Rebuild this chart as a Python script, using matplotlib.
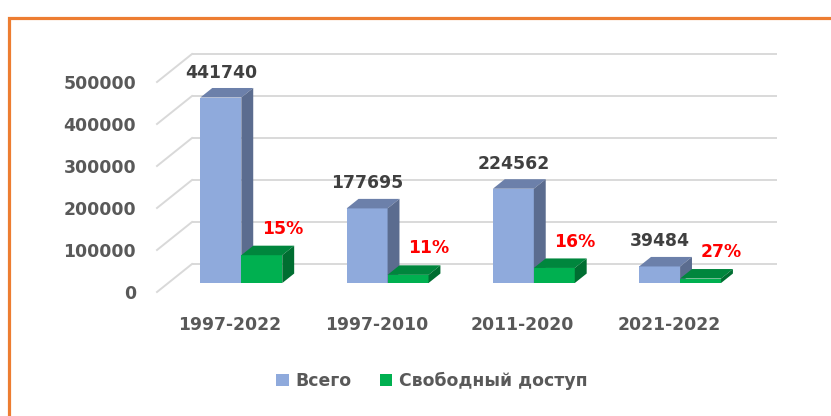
import matplotlib
matplotlib.use('Agg')
import matplotlib.pyplot as plt
from matplotlib.patches import Polygon, Rectangle

# ---- data ----
categories = ['1997-2022', '1997-2010', '2011-2020', '2021-2022']
total = [441740, 177695, 224562, 39484]
free = [66300, 19500, 35900, 10700]
free_pct = ['15%', '11%', '16%', '27%']
series_names = ['Всего', 'Свободный доступ']
yticks = [0, 100000, 200000, 300000, 400000, 500000]

# ---- styles ----
FONT = 'DejaVu Sans'
FS = 12.4
front_cols = ['#8FAADC', '#00B050']
top_cols = ['#6C80AA', '#00863D']
side_cols = ['#5B6C8F', '#006E31']
grid_col = '#D9D9D9'
tick_col = '#595959'
lab_col = '#404040'

W, H = 831, 416
fig = plt.figure(figsize=(W / 100, H / 100), dpi=100)
ax_l, ax_r, ax_b, ax_t = 157, 742, 292, 82
ax = fig.add_axes([ax_l / W, 1 - ax_b / H, (ax_r - ax_l) / W, (ax_b - ax_t) / H])
ax.set_xlim(-0.5, len(categories) - 0.5)
ax.set_ylim(0, yticks[-1])
ax.set_facecolor('none')
for sp in ax.spines.values():
    sp.set_visible(False)

# pixel scales -> depth offsets in data units
sx = (ax_r - ax_l) / len(categories)
sy = (ax_b - ax_t) / yticks[-1]
wdx = 35 / sx
wdy = 28 / sy


def dp(x, y, f):
    return (x + f * wdx, y + f * wdy)


# walls / gridlines
x_lo, x_hi = -0.5, len(categories) - 0.5
for v in yticks:
    ax.plot([x_lo + wdx, x_hi + wdx], [v + wdy, v + wdy], color=grid_col, lw=1.4,
            clip_on=False, zorder=1, solid_capstyle='butt')
    ax.plot([x_lo, x_lo + wdx], [v, v + wdy], color=grid_col, lw=1.4,
            clip_on=False, zorder=1)

# bars
bw = 0.28
f0, f1 = 0.32, 0.66
series = [total, free]
z = 3
for i in range(len(categories)):
    for s, vals in enumerate(series):
        x0 = i - bw + s * bw
        x1 = x0 + bw
        h = vals[i]
        bx, by = dp(x0, 0, f0)
        ax.bar(bx, h, width=bw, bottom=by, align='edge', color=front_cols[s],
               lw=0, clip_on=False, zorder=z)
        top = Polygon([dp(x0, h, f0), dp(x1, h, f0), dp(x1, h, f1), dp(x0, h, f1)],
                      closed=True, fc=top_cols[s], lw=0, clip_on=False, zorder=z)
        side = Polygon([dp(x1, 0, f0), dp(x1, h, f0), dp(x1, h, f1), dp(x1, 0, f1)],
                       closed=True, fc=side_cols[s], lw=0, clip_on=False, zorder=z)
        ax.add_patch(top)
        ax.add_patch(side)
        z += 1
    # labels
    xc = i - bw / 2
    ax.annotate(f'{total[i]}', xy=dp(xc, total[i], f0), xytext=(0, 18),
                textcoords='offset points', ha='center', va='center',
                fontsize=FS, fontweight='bold', color=lab_col, family=FONT,
                zorder=20, annotation_clip=False)
    xg = i + bw / 2
    ax.annotate(free_pct[i], xy=dp(xg, free[i], f0), xytext=(15, 19),
                textcoords='offset points', ha='center', va='center',
                fontsize=FS, fontweight='bold', color='#FF0000', family=FONT,
                zorder=20, annotation_clip=False)

ax.set_yticks(yticks)
ax.set_yticklabels([str(v) for v in yticks], fontsize=FS, fontweight='bold',
                   color=tick_col, family=FONT)
ax.set_xticks(range(len(categories)))
ax.set_xticklabels(categories, fontsize=FS, fontweight='bold', color=tick_col,
                   family=FONT)
ax.tick_params(axis='y', length=0, pad=15)
ax.tick_params(axis='x', length=0, pad=17)

# legend
handles = [Rectangle((0, 0), 1, 1, fc=c, lw=0) for c in front_cols]
leg = fig.legend(handles, series_names, loc='center', bbox_to_anchor=(432 / W, 1 - 381 / H),
                 ncol=2, frameon=False, handlelength=0.75, handleheight=0.75,
                 handletextpad=0.4, columnspacing=1.6,
                 prop={'family': FONT, 'weight': 'bold', 'size': FS})
for t in leg.get_texts():
    t.set_color(tick_col)

# orange frame
fig.add_artist(Rectangle((8.5 / W, -0.2), 1.5, 1.2 - 17.5 / H, transform=fig.transFigure,
                         fill=False, ec='#ED7D31', lw=2.3))

fig.savefig('out.png', dpi=100, facecolor='white')
